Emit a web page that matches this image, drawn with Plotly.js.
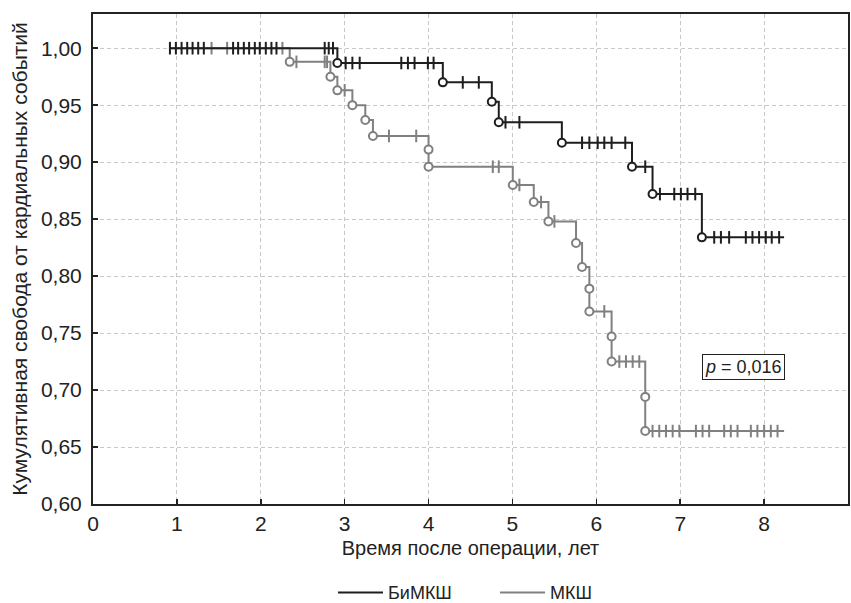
<!DOCTYPE html>
<html>
<head>
<meta charset="utf-8">
<script src="https://cdn.plot.ly/plotly-3.0.1.min.js"></script>
<style>html,body{margin:0;padding:0;background:#fff;}#chart{width:851px;height:603px;}</style>
</head>
<body>
<div id="chart"></div>
<script>
// ---- data ----
const seriesNames = ['БиМКШ', 'МКШ'];

// БиМКШ
const biStart = 0.917;
const biEnd = 8.238;
const biEventTimes = [2.913, 4.17, 4.754, 4.837, 5.589, 6.425, 6.67, 7.258];
const biEventSurv  = [0.987, 0.970, 0.953, 0.935, 0.917, 0.896, 0.872, 0.834];
const biCensorTimes = [0.917, 0.988, 1.056, 1.123, 1.187, 1.254, 1.321, 1.67, 1.73, 1.798, 1.861, 1.929, 1.988, 2.06, 2.127, 2.187, 2.762, 2.81, 2.861,
  3.012, 3.092, 3.179, 3.675, 3.754, 3.833, 3.992, 4.06, 4.408, 4.599, 4.917, 5.083,
  5.83, 5.917, 6.016, 6.095, 6.182, 6.345, 6.583, 6.758, 6.929, 7.008, 7.087, 7.179,
  7.405, 7.485, 7.583, 7.782, 7.861, 7.94, 8.02, 8.091, 8.179];

// МКШ
const mkStart = 0.917;
const mkEnd = 8.238;
const mkEventTimes = [2.345, 2.83, 2.913, 3.092, 3.246, 3.337, 4.0, 4.0, 5.004, 5.254, 5.429, 5.758, 5.83, 5.917, 5.917, 6.182, 6.182, 6.583, 6.583];
const mkEventSurv  = [0.988, 0.975, 0.963, 0.950, 0.937, 0.923, 0.911, 0.896, 0.880, 0.865, 0.848, 0.829, 0.808, 0.789, 0.769, 0.747, 0.725, 0.694, 0.664];
const mkCensorTimes = [1.413, 1.599, 2.258, 2.425, 2.762, 2.79, 3.0, 3.528, 3.853, 4.766, 4.837, 5.083, 5.341, 5.5,
  6.095, 6.274, 6.353, 6.433, 6.512, 6.67, 6.75, 6.83, 6.91, 6.99, 7.187, 7.266, 7.345,
  7.524, 7.603, 7.683, 7.842, 7.92, 8.0, 8.08, 8.16];

const xTickVals = [0,1,2,3,4,5,6,7,8,9];
const yTickVals = [0.60,0.65,0.70,0.75,0.80,0.85,0.90,0.95,1.00];
const pText = '<i>p</i> = 0,016';

// ---- helpers ----
function stepLine(start, end, et, es) {
  const x = [start], y = [1.0];
  for (let i = 0; i < et.length; i++) { x.push(et[i]); y.push(es[i]); }
  x.push(end); y.push(es[es.length - 1]);
  return {x, y};
}
function survAt(t, et, es) {
  let s = 1.0;
  for (let i = 0; i < et.length; i++) { if (et[i] <= t) s = es[i]; }
  return s;
}
function group(name, color, start, end, et, es, ct) {
  const sl = stepLine(start, end, et, es);
  return [
    {x: sl.x, y: sl.y, type: 'scatter', mode: 'lines', name: name, line: {shape: 'hv', color: color, width: 2}, showlegend: true, hoverinfo: 'skip'},
    {x: ct, y: ct.map(t => survAt(t, et, es)), type: 'scatter', mode: 'markers', showlegend: false,
     marker: {symbol: 'line-ns', size: 9, line: {color: color, width: 2}}, hoverinfo: 'skip'},
    {x: et, y: es, type: 'scatter', mode: 'markers', showlegend: false,
     marker: {symbol: 'circle', size: 8, color: '#ffffff', line: {color: color, width: 2}}, hoverinfo: 'skip'}
  ];
}

const black = '#1e1e1e', gray = '#808080';
const data = [].concat(
  group(seriesNames[1], gray, mkStart, mkEnd, mkEventTimes, mkEventSurv, mkCensorTimes),
  group(seriesNames[0], black, biStart, biEnd, biEventTimes, biEventSurv, biCensorTimes)
);
// legend order: БиМКШ first
data[0].legendrank = 2; data[3].legendrank = 1;

const fam = '"Liberation Sans", Arial, sans-serif';
const tickFont = {family: fam, size: 21, color: '#222'};
const xTitleFont = {family: fam, size: 20, color: '#222'};
const yTitleFont = {family: fam, size: 21, color: '#222'};
const legFont = {family: fam, size: 18, color: '#222'};
const layout = {
  width: 851, height: 603,
  margin: {l: 93, r: 3, t: 14, b: 99, autoexpand: false},
  paper_bgcolor: '#fff', plot_bgcolor: '#fff',
  separators: ', ',
  font: tickFont,
  showlegend: true,
  legend: {orientation: 'h', xref: 'container', yref: 'container', x: 0.5817, xanchor: 'center', y: 0.017, yanchor: 'middle',
           font: legFont, traceorder: 'normal', entrywidth: 102, itemwidth: 45, bgcolor: 'rgba(0,0,0,0)'},
  xaxis: {
    range: [0, 9], tickvals: xTickVals, ticktext: xTickVals.map(String),
    showgrid: true, gridcolor: '#c8c8c8', griddash: '4px,3px', gridwidth: 1,
    zeroline: false, showline: true, linecolor: '#222', linewidth: 2, mirror: true,
    ticks: 'inside', ticklen: 5, tickcolor: '#222', tickwidth: 1.5,
    tickfont: tickFont, ticklabelstandoff: 0, automargin: false,
    title: {text: 'Время после операции, лет', font: xTitleFont, standoff: 7}
  },
  yaxis: {
    range: [0.6, 1.03], tickvals: yTickVals, tickformat: '.2f',
    showgrid: true, gridcolor: '#c8c8c8', griddash: '4px,3px', gridwidth: 1,
    zeroline: false, showline: true, linecolor: '#222', linewidth: 2, mirror: true,
    ticks: 'inside', ticklen: 5, tickcolor: '#222', tickwidth: 1.5,
    tickfont: tickFont, ticklabelstandoff: 5, automargin: false,
    title: {text: 'Кумулятивная свобода от кардиальных событий', font: yTitleFont, standoff: 8}
  },
  annotations: [{
    x: 7.75, y: 0.72, xref: 'x', yref: 'y', text: pText, showarrow: false,
    font: {family: fam, size: 18, color: '#222'},
    bordercolor: '#222', borderwidth: 1, borderpad: 2, bgcolor: '#fff'
  }]
};

Plotly.newPlot('chart', data, layout, {staticPlot: true, displayModeBar: false});
</script>
</body>
</html>
